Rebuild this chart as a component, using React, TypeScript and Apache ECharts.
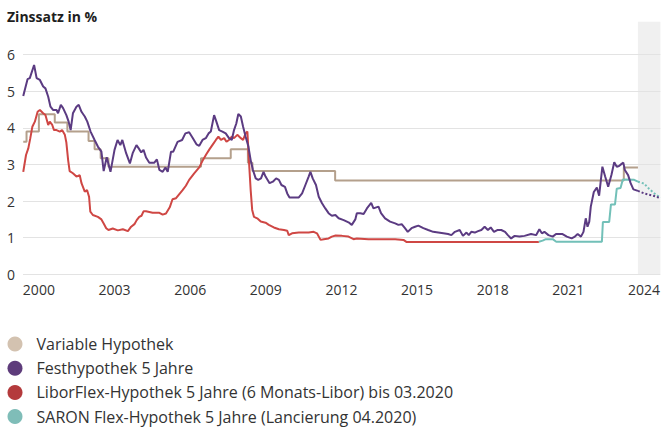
import { useEffect, useRef } from "react";
import * as echarts from "echarts";

// ---- data (decimal years, percent) ----
const xTickYears = [2000, 2003, 2006, 2009, 2012, 2015, 2018, 2021, 2024];
const xMin = 1999.87;
const xMax = 2025.15;
const forecastStart = 2024.26;

const seriesNames = [
  "Variable Hypothek",
  "Festhypothek 5 Jahre",
  "LiborFlex-Hypothek 5 Jahre (6 Monats-Libor) bis 03.2020",
  "SARON Flex-Hypothek 5 Jahre (Lancierung 04.2020)",
];

const variableHypothek: [number, number][] = [
  [1999.88, 3.62], [2000.01, 3.9], [2000.5, 4.37], [2001.13, 4.15], [2001.63, 3.9],
  [2002.47, 3.64], [2002.71, 3.42], [2002.95, 3.17], [2003.26, 2.94], [2006.93, 3.17],
  [2008.11, 3.42], [2008.79, 3.05], [2008.97, 2.82], [2012.25, 2.56], [2023.7, 2.92],
  [2024.26, 2.92],
];

const festhypothek: [number, number][] = [
  [1999.88, 4.87], [2000.05, 5.33], [2000.14, 5.36], [2000.31, 5.72], [2000.41, 5.36], [2000.54, 5.31],
  [2000.67, 5.13], [2000.76, 5.08], [2000.87, 4.85], [2000.96, 4.58], [2001.06, 4.49], [2001.2, 4.49],
  [2001.26, 4.4], [2001.37, 4.63], [2001.46, 4.54], [2001.59, 4.35], [2001.68, 4.17], [2001.76, 3.94],
  [2001.85, 4.4], [2001.99, 4.58], [2002.08, 4.63], [2002.19, 4.44], [2002.32, 4.31], [2002.42, 4.17],
  [2002.55, 3.9], [2002.71, 3.67], [2002.84, 3.49], [2002.98, 3.35], [2003.07, 2.82], [2003.19, 3.2],
  [2003.34, 2.8], [2003.5, 3.4], [2003.62, 3.67], [2003.73, 3.53], [2003.81, 3.67], [2003.96, 3.31],
  [2004.11, 3.03], [2004.22, 3.31], [2004.37, 3.53], [2004.46, 3.44], [2004.56, 3.33], [2004.65, 3.4],
  [2004.75, 3.19], [2004.88, 3.05], [2005.08, 3.05], [2005.18, 3.14], [2005.28, 2.85], [2005.41, 2.8],
  [2005.52, 2.92], [2005.61, 2.8], [2005.74, 3.35], [2005.83, 3.35], [2006.0, 3.62], [2006.18, 3.67],
  [2006.31, 3.85], [2006.46, 3.88], [2006.59, 3.74], [2006.75, 3.55], [2006.86, 3.51], [2006.99, 3.67],
  [2007.12, 3.72], [2007.23, 3.85], [2007.32, 3.9], [2007.45, 4.35], [2007.54, 4.17], [2007.65, 3.94],
  [2007.78, 3.9], [2007.91, 3.85], [2008.04, 3.72], [2008.15, 3.67], [2008.24, 3.94], [2008.33, 4.12],
  [2008.41, 4.38], [2008.51, 4.31], [2008.6, 4.03], [2008.7, 3.76], [2008.81, 3.49], [2008.9, 3.12],
  [2008.99, 2.85], [2009.1, 2.62], [2009.2, 2.58], [2009.31, 2.62], [2009.41, 2.8], [2009.49, 2.67],
  [2009.65, 2.49], [2009.78, 2.53], [2009.91, 2.62], [2010.02, 2.58], [2010.12, 2.44], [2010.26, 2.39],
  [2010.35, 2.21], [2010.44, 2.1], [2010.81, 2.1], [2010.94, 2.21], [2011.07, 2.44], [2011.2, 2.67],
  [2011.27, 2.8], [2011.36, 2.62], [2011.49, 2.44], [2011.6, 2.12], [2011.73, 1.94], [2011.86, 1.8],
  [2011.99, 1.67], [2012.12, 1.6], [2012.26, 1.62], [2012.39, 1.53], [2012.59, 1.48], [2012.78, 1.42],
  [2012.91, 1.35], [2013.05, 1.5], [2013.11, 1.67], [2013.25, 1.67], [2013.38, 1.65], [2013.51, 1.8],
  [2013.68, 1.95], [2013.77, 1.8], [2013.97, 1.85], [2014.07, 1.67], [2014.23, 1.53], [2014.43, 1.44],
  [2014.63, 1.39], [2014.76, 1.35], [2014.89, 1.37], [2015.02, 1.26], [2015.13, 1.16], [2015.28, 1.26],
  [2015.42, 1.3], [2015.55, 1.33], [2015.75, 1.26], [2015.94, 1.21], [2016.14, 1.16], [2016.34, 1.14],
  [2016.54, 1.12], [2016.73, 1.1], [2016.86, 1.07], [2017.0, 1.16], [2017.19, 1.21], [2017.32, 1.05],
  [2017.46, 1.14], [2017.55, 1.07], [2017.65, 1.16], [2017.79, 1.14], [2017.92, 1.18], [2018.05, 1.21],
  [2018.18, 1.3], [2018.31, 1.21], [2018.42, 1.28], [2018.55, 1.16], [2018.68, 1.21], [2018.84, 1.21],
  [2018.99, 1.16], [2019.1, 1.07], [2019.23, 0.98], [2019.37, 1.05], [2019.56, 1.03], [2019.76, 1.05],
  [2020.02, 1.1], [2020.22, 1.07], [2020.35, 1.23], [2020.45, 1.12], [2020.55, 1.16], [2020.71, 1.07],
  [2020.88, 1.03], [2021.01, 1.1], [2021.27, 1.1], [2021.44, 1.03], [2021.63, 0.98], [2021.76, 1.03],
  [2021.87, 1.1], [2022.0, 1.03], [2022.1, 1.16], [2022.19, 1.53], [2022.26, 1.3], [2022.33, 1.44],
  [2022.39, 1.85], [2022.51, 2.25], [2022.63, 2.37], [2022.72, 2.15], [2022.85, 2.94], [2022.96, 2.67],
  [2023.08, 2.39], [2023.21, 2.72], [2023.32, 3.06], [2023.42, 2.94], [2023.51, 2.96], [2023.6, 3.01],
  [2023.68, 3.05], [2023.74, 2.85], [2023.87, 2.71], [2023.97, 2.49], [2024.08, 2.32], [2024.26, 2.28],
];
const festhypothekForecast: [number, number][] = [
  [2024.26, 2.28], [2024.5, 2.21], [2024.9, 2.14], [2025.15, 2.08],
];

const liborFlex: [number, number][] = [
  [1999.88, 2.8], [1999.99, 3.26], [2000.08, 3.44], [2000.16, 3.72], [2000.24, 4.03], [2000.34, 4.17],
  [2000.45, 4.44], [2000.54, 4.49], [2000.67, 4.4], [2000.76, 4.35], [2000.87, 4.08], [2000.93, 4.17],
  [2001.03, 4.08], [2001.1, 3.94], [2001.2, 3.94], [2001.33, 3.9], [2001.42, 3.94], [2001.53, 3.81],
  [2001.59, 3.6], [2001.66, 3.12], [2001.72, 2.82], [2001.85, 2.76], [2001.99, 2.67], [2002.12, 2.71],
  [2002.19, 2.49], [2002.32, 2.26], [2002.41, 2.3], [2002.49, 2.12], [2002.54, 1.71], [2002.64, 1.62],
  [2002.84, 1.57], [2002.98, 1.5], [2003.07, 1.39], [2003.17, 1.26], [2003.26, 1.21], [2003.43, 1.25],
  [2003.63, 1.2], [2003.83, 1.23], [2004.03, 1.18], [2004.16, 1.3], [2004.29, 1.37], [2004.38, 1.48],
  [2004.48, 1.57], [2004.57, 1.6], [2004.65, 1.72], [2004.75, 1.72], [2005.01, 1.68], [2005.28, 1.68],
  [2005.41, 1.63], [2005.54, 1.66], [2005.69, 1.83], [2005.8, 2.05], [2005.94, 2.08], [2006.07, 2.19],
  [2006.2, 2.3], [2006.33, 2.42], [2006.46, 2.58], [2006.66, 2.76], [2006.86, 2.92], [2006.99, 3.1],
  [2007.14, 3.28], [2007.27, 3.42], [2007.38, 3.53], [2007.52, 3.67], [2007.62, 3.76], [2007.72, 3.67],
  [2007.85, 3.72], [2007.94, 3.62], [2008.04, 3.67], [2008.15, 3.76], [2008.24, 3.72], [2008.37, 3.81],
  [2008.51, 3.72], [2008.6, 3.67], [2008.7, 3.85], [2008.77, 3.9], [2008.83, 3.12], [2008.9, 2.3],
  [2008.96, 1.76], [2009.03, 1.57], [2009.16, 1.53], [2009.3, 1.44], [2009.49, 1.41], [2009.62, 1.35],
  [2009.82, 1.28], [2010.02, 1.23], [2010.22, 1.21], [2010.35, 1.19], [2010.41, 1.07], [2010.54, 1.12],
  [2010.81, 1.14], [2011.2, 1.14], [2011.4, 1.16], [2011.53, 1.12], [2011.67, 0.94], [2011.8, 0.96],
  [2011.99, 0.98], [2012.12, 1.03], [2012.27, 1.06], [2012.52, 1.05], [2012.78, 1.03], [2012.98, 0.96],
  [2013.11, 0.98], [2013.57, 0.96], [2014.63, 0.96], [2014.96, 0.94], [2015.09, 0.88], [2020.33, 0.88],
];

const saronFlex: [number, number][] = [
  [2020.33, 0.89], [2020.48, 0.92], [2020.61, 0.96], [2020.88, 0.96], [2021.02, 0.89], [2022.83, 0.89],
  [2022.87, 1.43], [2023.12, 1.43], [2023.19, 1.91], [2023.35, 1.91], [2023.42, 2.34], [2023.57, 2.36],
  [2023.66, 2.59], [2024.11, 2.58], [2024.26, 2.53],
];
const saronFlexForecast: [number, number][] = [
  [2024.26, 2.53], [2024.5, 2.48], [2024.71, 2.33], [2024.95, 2.19], [2025.15, 2.09],
];

// ---- styles ----
const lineColors = ["#b4a08c", "#5b3b82", "#cf4744", "#72c0b8"];
const legendColors = ["#d3c2b0", "#5e3c7b", "#b43a3c", "#7fbdb8"];
const FONT = "'Open Sans', 'Noto Sans', sans-serif";

export default function App() {
  const ref = useRef<HTMLDivElement>(null);

  useEffect(() => {
    if (!ref.current) return;
    const chart = echarts.init(ref.current, undefined, { renderer: "svg" });

    const line = (name: string, data: [number, number][], color: string, dotted = false, step: any = false) => ({
      name,
      type: "line",
      data,
      step,
      showSymbol: false,
      symbol: "none",
      lineStyle: { color, width: 2, type: dotted ? [2, 2] : "solid" },
      itemStyle: { color },
      emphasis: { disabled: true },
      z: 3,
    });

    // legend drawn as graphic items (circle + label per series)
    const legendItems: any[] = [];
    seriesNames.forEach((n, i) => {
      const cy = 344 + i * 24.2;
      legendItems.push({
        type: "circle",
        silent: true,
        shape: { cx: 15, cy, r: 7.5 },
        style: { fill: legendColors[i] },
      });
      legendItems.push({
        type: "text",
        silent: true,
        x: 36.5,
        y: cy,
        style: {
          text: n,
          fill: "#333",
          font: `16px ${FONT}`,
          textVerticalAlign: "middle",
          verticalAlign: "middle",
        },
      });
    });

    chart.setOption({
      animation: false,
      textStyle: { fontFamily: FONT },
      title: {
        text: "Zinssatz in %",
        left: 7,
        top: 9,
        padding: 0,
        textStyle: { fontFamily: FONT, fontSize: 14, fontWeight: "bold", color: "#1e1e1e" },
      },
      grid: { left: 23, right: 0, top: 54.7, bottom: 153.7, containLabel: false },
      xAxis: {
        type: "value",
        min: xMin,
        max: xMax,
        axisLine: { show: false },
        axisTick: { show: false },
        splitLine: { show: false },
        axisLabel: {
          customValues: xTickYears.map((y) => y + 0.5),
          formatter: (v: number) => String(Math.floor(v)),
          color: "#333",
          fontSize: 14,
          fontFamily: FONT,
          margin: 8,
        },
      },
      yAxis: {
        type: "value",
        min: 0,
        max: 6,
        interval: 1,
        axisLine: { show: false },
        axisTick: { show: false },
        splitLine: { lineStyle: { color: "#e3e3e3", width: 1 } },
        axisLabel: { color: "#333", fontSize: 14, fontFamily: FONT, margin: 8 },
      },
      series: [
        line(seriesNames[0], variableHypothek, lineColors[0], false, "end"),
        line(seriesNames[2], liborFlex, lineColors[2]),
        line(seriesNames[3], saronFlex, lineColors[3]),
        line("SARON Prognose", saronFlexForecast, lineColors[3], true),
        line(seriesNames[1], festhypothek, lineColors[1]),
        line("Festhypothek Prognose", festhypothekForecast, lineColors[1], true),
      ],
    });

    const x0 = chart.convertToPixel({ xAxisIndex: 0 }, forecastStart) as number;
    const x1 = chart.convertToPixel({ xAxisIndex: 0 }, xMax) as number;
    const yBottom = chart.convertToPixel({ yAxisIndex: 0 }, 0) as number;
    const yTop = chart.convertToPixel({ yAxisIndex: 0 }, 6.9) as number;
    chart.setOption({
      graphic: {
        elements: [
          {
            type: "rect",
            silent: true,
            z: -1,
            shape: { x: x0, y: yTop, width: x1 - x0, height: yBottom - yTop },
            style: { fill: "#f0f0f0" },
          },
          ...legendItems,
        ],
      },
    });

    return () => chart.dispose();
  }, []);

  return (
    <div
      ref={ref}
      style={{ position: "fixed", left: 0, top: 0, width: 663, height: 428, background: "#fff" }}
    />
  );
}
